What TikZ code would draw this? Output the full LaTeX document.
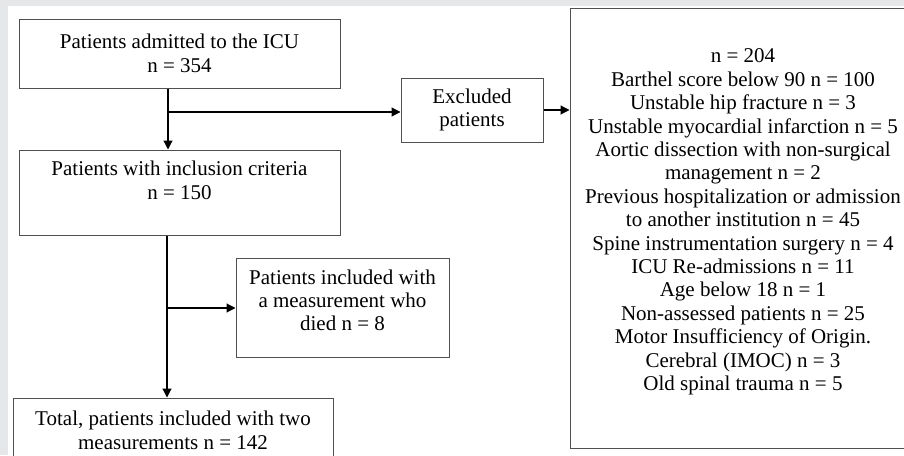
\documentclass[tikz,border=0pt]{standalone}
\usepackage{fontspec}
\setmainfont{Liberation Serif}
\usetikzlibrary{arrows.meta}
\definecolor{bgray}{RGB}{230,231,233}
\definecolor{frame}{RGB}{80,80,80}
\tikzset{
  box/.style={draw=frame, line width=1pt, fill=white, inner sep=0pt, align=center,
    font=\fontsize{21}{23.4}\selectfont},
  txt/.style={inner sep=0pt, align=center, font=\fontsize{21}{23.4}\selectfont},
  arr/.style={draw=black, line width=1.2pt, -{Triangle[length=9pt,width=9pt]}},
}
\begin{document}
\begin{tikzpicture}[x=1pt,y=-1pt]
\useasboundingbox (0,0) rectangle (904,455);
\clip (0,0) rectangle (904,455);
\fill[bgray] (0,0) rectangle (904,455);
\fill[white] (8,6) rectangle (904,455);

\node[box, minimum width=321pt, minimum height=69pt] (b1) at (179.5,53.5)
  {Patients admitted to the ICU\\ n = 354};
\node[box, minimum width=321pt, minimum height=85pt] (b2) at (179.5,192.5)
  {Patients with inclusion criteria\\ n = 150\\[-6pt] \strut};
\node[box, minimum width=142pt, minimum height=64pt] (ex) at (472,110)
  {Excluded\\ patients};
\node[box, minimum width=213pt, minimum height=99pt] (died) at (342.5,307.5)
  {Patients included with\\ a measurement who\\ died n = 8\\[-16pt]\strut};
\node[box, minimum width=320pt, minimum height=65pt] (tot) at (173,430.5)
  {Total, patients included with two\\ measurements n = 142};
\node[box, minimum width=346pt, minimum height=440pt] (big) at (743,228) {};
\node[txt] (bigtext) at (743,222) {n = 204\\
Barthel score below 90 n = 100\\
Unstable hip fracture n = 3\\
Unstable myocardial infarction n = 5\\
Aortic dissection with non-surgical\\
management n = 2\\
Previous hospitalization or admission\\
to another institution n = 45\\
Spine instrumentation surgery n = 4\\
ICU Re-admissions n = 11\\
Age below 18 n = 1\\
Non-assessed patients n = 25\\
Motor Insufficiency of Origin.\\
Cerebral (IMOC) n = 3\\
Old spinal trauma n = 5};

\coordinate (j1) at (168,112);
\coordinate (j2) at (167,308);
\draw[arr] (b1.south -| j1) -- (b2.north -| j1);
\draw[arr] (j1) -- (j1 -| ex.west);
\draw[arr] (ex.east) -- (ex.east -| big.west);
\draw[arr] (b2.south -| j2) -- (tot.north -| j2);
\draw[arr] (j2) -- (j2 -| died.west);
\end{tikzpicture}
\end{document}
